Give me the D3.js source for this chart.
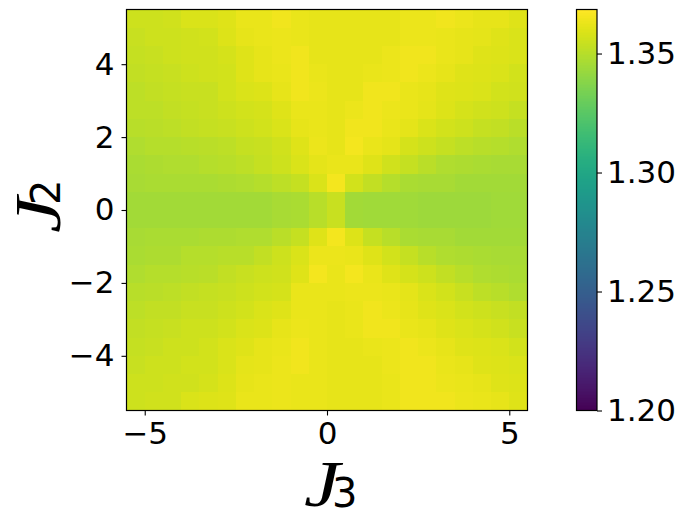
<!DOCTYPE html>
<html>
<head>
<meta charset="utf-8">
<script src="https://cdnjs.cloudflare.com/ajax/libs/d3/7.8.5/d3.min.js"></script>
<style>
html, body { margin: 0; padding: 0; background: #fff; }
svg { display: block; }
text { font-family: "DejaVu Sans", sans-serif; fill: #000; }
</style>
</head>
<body>
<div id="chart"></div>
<script>
var j3Values = [-5.25, -4.75, -4.25, -3.75, -3.25, -2.75, -2.25, -1.75, -1.25, -0.75, -0.25, 0.25, 0.75, 1.25, 1.75, 2.25, 2.75, 3.25, 3.75, 4.25, 4.75, 5.25];
// top row first, J2 = 5.25 down to -5.25
var j2Values = [5.25, 4.75, 4.25, 3.75, 3.25, 2.75, 2.25, 1.75, 1.25, 0.75, 0.25, -0.25, -0.75, -1.25, -1.75, -2.25, -2.75, -3.25, -3.75, -4.25, -4.75, -5.25];
var gridValues = [
    [1.3554,1.3554,1.3562,1.3588,1.3588,1.3604,1.363,1.363,1.3646,1.363,1.3621,1.3621,1.3621,1.3621,1.3621,1.3638,1.3638,1.3646,1.3638,1.3621,1.3621,1.3604],
    [1.3546,1.3554,1.3554,1.3562,1.3571,1.3596,1.3621,1.363,1.3638,1.363,1.3621,1.3621,1.3621,1.3621,1.3621,1.3638,1.3638,1.363,1.3621,1.3613,1.3604,1.3588],
    [1.3537,1.3546,1.3554,1.3562,1.3562,1.3579,1.3604,1.3621,1.3638,1.3646,1.3621,1.3621,1.3621,1.3621,1.3638,1.3646,1.3646,1.363,1.3621,1.3604,1.3596,1.3588],
    [1.3529,1.3537,1.3546,1.3554,1.3562,1.3571,1.3604,1.3621,1.363,1.3646,1.363,1.3621,1.3621,1.363,1.3638,1.3646,1.3638,1.3621,1.3604,1.3596,1.3588,1.3571],
    [1.352,1.3529,1.3537,1.3546,1.3546,1.3571,1.3588,1.3596,1.3621,1.3646,1.3638,1.3621,1.3621,1.3646,1.3646,1.363,1.3621,1.3604,1.3596,1.3588,1.3571,1.3562],
    [1.352,1.352,1.3529,1.3537,1.3546,1.3554,1.3571,1.3579,1.3604,1.363,1.363,1.3621,1.3638,1.3646,1.3638,1.363,1.3613,1.3596,1.3579,1.3562,1.3554,1.3537],
    [1.3504,1.3512,1.352,1.3529,1.3537,1.3546,1.3554,1.3571,1.3588,1.3621,1.363,1.3621,1.3646,1.3646,1.363,1.3613,1.3588,1.3571,1.3554,1.3537,1.3529,1.3512],
    [1.3487,1.3495,1.3495,1.3504,1.3512,1.352,1.3537,1.3546,1.3562,1.3604,1.3638,1.3621,1.3655,1.363,1.3613,1.3579,1.3554,1.3537,1.352,1.3504,1.3495,1.3487],
    [1.347,1.3478,1.3487,1.3487,1.3495,1.3504,1.352,1.3537,1.3554,1.3588,1.3613,1.363,1.363,1.3604,1.3562,1.3537,1.3512,1.3487,1.3478,1.347,1.3462,1.3462],
    [1.3462,1.347,1.347,1.347,1.347,1.3478,1.3487,1.3495,1.352,1.3537,1.3588,1.3655,1.3571,1.3529,1.3495,1.347,1.3462,1.3462,1.3453,1.3453,1.3453,1.3453],
    [1.3453,1.3453,1.3453,1.3453,1.3453,1.3453,1.3453,1.3453,1.3462,1.347,1.3504,1.3546,1.3453,1.3445,1.3445,1.3445,1.3436,1.3436,1.3436,1.3436,1.3445,1.3445],
    [1.3453,1.3453,1.3453,1.3453,1.3453,1.3453,1.3453,1.3453,1.3462,1.347,1.3504,1.3546,1.3453,1.3445,1.3445,1.3445,1.3436,1.3436,1.3436,1.3436,1.3445,1.3445],
    [1.3462,1.347,1.347,1.347,1.3478,1.3478,1.3487,1.3487,1.3512,1.3537,1.3604,1.3655,1.3596,1.3537,1.3504,1.347,1.3462,1.3462,1.3453,1.3453,1.3453,1.3453],
    [1.347,1.3478,1.3478,1.3495,1.3495,1.3504,1.3504,1.3529,1.3554,1.3588,1.3638,1.3638,1.363,1.3604,1.3571,1.3537,1.3504,1.3487,1.3478,1.347,1.3462,1.3462],
    [1.3487,1.3495,1.3495,1.3504,1.3512,1.3529,1.3546,1.3554,1.3562,1.3604,1.3655,1.363,1.3655,1.363,1.3604,1.3579,1.3554,1.3529,1.3504,1.3487,1.3478,1.347],
    [1.3504,1.3512,1.352,1.3529,1.3537,1.3546,1.3554,1.3571,1.3579,1.363,1.363,1.363,1.3638,1.3638,1.363,1.3613,1.3588,1.3571,1.3546,1.352,1.3504,1.3487],
    [1.352,1.3529,1.3529,1.3546,1.3546,1.3554,1.3571,1.3588,1.3604,1.363,1.363,1.3621,1.363,1.3646,1.3638,1.3621,1.3604,1.3588,1.3571,1.3554,1.3546,1.3529],
    [1.3529,1.3537,1.3546,1.3554,1.3554,1.3571,1.3588,1.3596,1.3621,1.3638,1.363,1.3621,1.363,1.3646,1.3646,1.363,1.3621,1.3604,1.3588,1.3579,1.3562,1.3546],
    [1.3537,1.3546,1.3554,1.3554,1.3571,1.3588,1.3604,1.3621,1.363,1.3646,1.363,1.3621,1.3621,1.363,1.3638,1.3646,1.3638,1.3621,1.3604,1.3596,1.3588,1.3571],
    [1.3546,1.3554,1.3554,1.3571,1.3571,1.3588,1.3613,1.3621,1.3638,1.3646,1.363,1.3621,1.3621,1.3621,1.3638,1.3646,1.3646,1.363,1.3621,1.3604,1.3596,1.3588],
    [1.3554,1.3554,1.3562,1.3562,1.3579,1.3596,1.3621,1.363,1.3638,1.363,1.363,1.3621,1.3621,1.3621,1.363,1.3646,1.3646,1.3638,1.363,1.3621,1.3604,1.3596],
    [1.3554,1.3562,1.3562,1.3588,1.3596,1.3604,1.363,1.363,1.3638,1.363,1.363,1.3621,1.3621,1.3621,1.363,1.3646,1.3646,1.3646,1.3638,1.363,1.3621,1.3604]
];
var xTicks = [-5, 0, 5];
var yTicks = [-4, -2, 0, 2, 4];
var colorTicks = [1.20, 1.25, 1.30, 1.35];
var colorMin = 1.20, colorMax = 1.3685;

var width = 687, height = 520;
var plotLeft = 126.5, plotTop = 9.5, plotSize = 401;
var barLeft = 576.5, barWidth = 20.5;
var cellHalf = 0.25;

var svg = d3.select("#chart").append("svg")
    .attr("width", width)
    .attr("height", height);

var x = d3.scaleLinear().domain([-5.5, 5.5]).range([plotLeft, plotLeft + plotSize]);
var y = d3.scaleLinear().domain([5.5, -5.5]).range([plotTop, plotTop + plotSize]);
var color = d3.scaleSequential(d3.interpolateViridis).domain([colorMin, colorMax]);
var barScale = d3.scaleLinear().domain([colorMin, colorMax]).range([plotTop + plotSize, plotTop]);

// heatmap cells
var cells = [];
gridValues.forEach(function (row, i) {
    row.forEach(function (v, k) {
        cells.push({j3: j3Values[k], j2: j2Values[i], value: v});
    });
});

svg.append("g").selectAll("rect")
    .data(cells)
    .enter().append("rect")
    .attr("x", function (d) { return x(d.j3 - cellHalf); })
    .attr("y", function (d) { return y(d.j2 + cellHalf); })
    .attr("width", function (d) { return x(d.j3 + cellHalf) - x(d.j3 - cellHalf) + 0.5; })
    .attr("height", function (d) { return y(d.j2 - cellHalf) - y(d.j2 + cellHalf) + 0.5; })
    .attr("fill", function (d) { return color(d.value); })
    .attr("shape-rendering", "crispEdges");

function styleAxis(g) {
    g.selectAll(".tick line").attr("stroke", "#000").attr("stroke-width", 1.1);
    g.selectAll(".tick text").style("font-size", "31px").attr("fill", "#000");
    g.select(".domain").remove();
}

var xAxis = svg.append("g")
    .attr("transform", "translate(0," + (plotTop + plotSize) + ")")
    .call(d3.axisBottom(x).tickValues(xTicks).tickFormat(d3.format("d")).tickSize(5).tickPadding(6))
    .call(styleAxis);

var yAxis = svg.append("g")
    .attr("transform", "translate(" + plotLeft + ",0)")
    .call(d3.axisLeft(y).tickValues(yTicks).tickFormat(d3.format("d")).tickSize(5).tickPadding(7))
    .call(styleAxis);

svg.append("rect")
    .attr("x", plotLeft).attr("y", plotTop)
    .attr("width", plotSize).attr("height", plotSize)
    .attr("fill", "none").attr("stroke", "#000").attr("stroke-width", 1.2);

// colorbar
var barStep = (colorMax - colorMin) / 256;
var barSteps = d3.range(256).map(function (i) {
    return colorMin + barStep * i;
});
svg.append("g").selectAll("rect")
    .data(barSteps)
    .enter().append("rect")
    .attr("x", barLeft)
    .attr("width", barWidth)
    .attr("y", function (d) { return barScale(d + barStep); })
    .attr("height", function (d) { return barScale(d) - barScale(d + barStep) + 0.5; })
    .attr("fill", function (d) { return color(d + barStep / 2); })
    .attr("shape-rendering", "crispEdges");

var barAxis = svg.append("g")
    .attr("transform", "translate(" + (barLeft + barWidth) + ",0)")
    .call(d3.axisRight(barScale).tickValues(colorTicks).tickFormat(d3.format(".2f")).tickSize(5).tickPadding(5))
    .call(styleAxis);

svg.append("rect")
    .attr("x", barLeft).attr("y", plotTop)
    .attr("width", barWidth).attr("height", plotSize)
    .attr("fill", "none").attr("stroke", "#000").attr("stroke-width", 1.2);

// axis labels, the script J is a stretched serif italic
function axisLabel(transform, sub, subDy) {
    var label = svg.append("text").attr("transform", transform);
    label.append("tspan")
        .style("font-family", "'Liberation Serif', serif")
        .style("font-style", "italic")
        .style("font-size", "66px")
        .attr("textLength", 36)
        .attr("lengthAdjust", "spacingAndGlyphs")
        .text("J");
    label.append("tspan")
        .attr("dx", -8)
        .attr("dy", subDy)
        .style("font-size", "40px")
        .text(sub);
}

axisLabel("translate(304,506)", "3", 1);
axisLabel("translate(60,233) rotate(-90)", "2", 0);
</script>
</body>
</html>
